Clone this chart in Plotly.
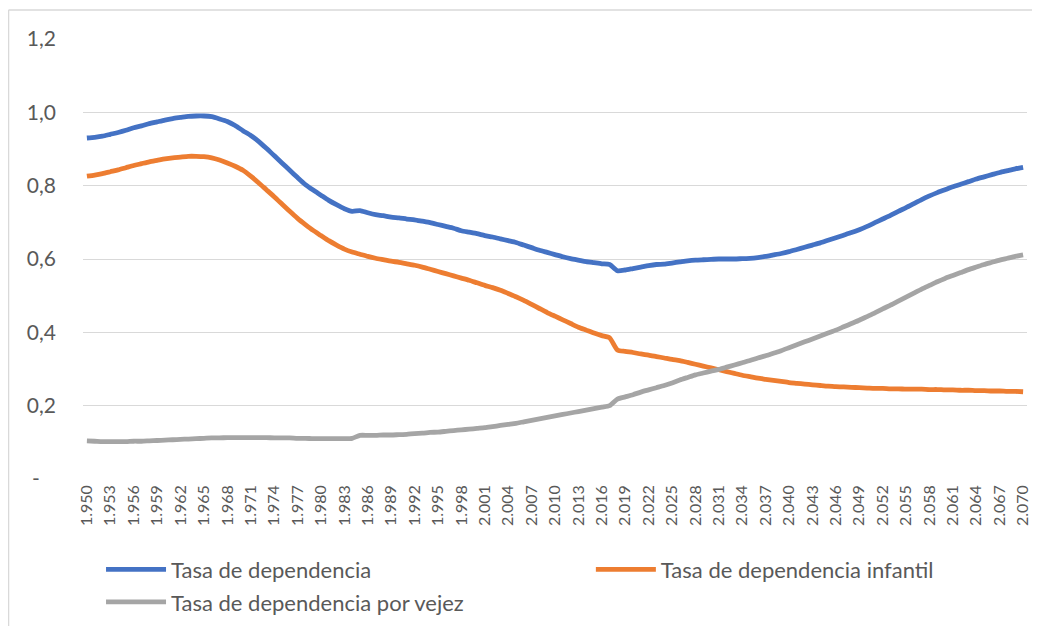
import plotly.graph_objects as go

years = list(range(1950, 2071))
categories = [f"{y // 1000}.{y % 1000:03d}" for y in years]
tick_labels = categories[::3]

tasa_total = [
    0.930, 0.932, 0.935, 0.940, 0.945, 0.951, 0.958, 0.963, 0.969, 0.974,  # 1950-1959
    0.979, 0.983, 0.986, 0.989, 0.990, 0.990, 0.988, 0.982, 0.975, 0.964,  # 1960-1969
    0.950, 0.937, 0.921, 0.902, 0.882, 0.862, 0.842, 0.822, 0.803, 0.788,  # 1970-1979
    0.774, 0.760, 0.748, 0.737, 0.730, 0.732, 0.726, 0.721, 0.718, 0.714,  # 1980-1989
    0.712, 0.709, 0.707, 0.703, 0.699, 0.694, 0.689, 0.684, 0.677, 0.673,  # 1990-1999
    0.669, 0.664, 0.660, 0.655, 0.650, 0.645, 0.638, 0.631, 0.624, 0.618,  # 2000-2009
    0.612, 0.606, 0.601, 0.597, 0.593, 0.590, 0.587, 0.585, 0.568, 0.570,  # 2010-2019
    0.574, 0.578, 0.582, 0.585, 0.586, 0.589, 0.592, 0.595, 0.597, 0.598,  # 2020-2029
    0.599, 0.600, 0.600, 0.600, 0.601, 0.602, 0.604, 0.607, 0.611, 0.615,  # 2030-2039
    0.620, 0.626, 0.632, 0.638, 0.644, 0.651, 0.658, 0.665, 0.672, 0.680,  # 2040-2049
    0.689, 0.699, 0.709, 0.719, 0.730, 0.740, 0.751, 0.762, 0.772, 0.781,  # 2050-2059
    0.789, 0.797, 0.804, 0.811, 0.818, 0.824, 0.830, 0.836, 0.841, 0.846,  # 2060-2069
    0.850,                                                                 # 2070
]

tasa_infantil = [
    0.826, 0.829, 0.833, 0.838, 0.843, 0.849, 0.855, 0.860, 0.865, 0.869,  # 1950-1959
    0.873, 0.876, 0.878, 0.880, 0.880, 0.879, 0.876, 0.870, 0.862, 0.853,  # 1960-1969
    0.842, 0.826, 0.808, 0.789, 0.770, 0.750, 0.730, 0.711, 0.694, 0.678,  # 1970-1979
    0.664, 0.650, 0.638, 0.627, 0.619, 0.613, 0.607, 0.602, 0.598, 0.594,  # 1980-1989
    0.591, 0.587, 0.583, 0.578, 0.572, 0.566, 0.560, 0.554, 0.548, 0.542,  # 1990-1999
    0.535, 0.528, 0.522, 0.515, 0.506, 0.497, 0.487, 0.476, 0.465, 0.454,  # 2000-2009
    0.444, 0.434, 0.424, 0.414, 0.406, 0.398, 0.391, 0.385, 0.352, 0.348,  # 2010-2019
    0.345, 0.341, 0.338, 0.334, 0.330, 0.326, 0.323, 0.318, 0.313, 0.308,  # 2020-2029
    0.303, 0.298, 0.293, 0.288, 0.283, 0.279, 0.275, 0.272, 0.269, 0.266,  # 2030-2039
    0.263, 0.261, 0.259, 0.257, 0.255, 0.253, 0.252, 0.251, 0.250, 0.249,  # 2040-2049
    0.248, 0.247, 0.247, 0.246, 0.246, 0.245, 0.245, 0.245, 0.244, 0.244,  # 2050-2059
    0.243, 0.243, 0.242, 0.242, 0.241, 0.241, 0.240, 0.240, 0.239, 0.239,  # 2060-2069
    0.238,                                                                 # 2070
]

tasa_vejez = [
    0.104, 0.103, 0.102, 0.102, 0.102, 0.102, 0.103, 0.103, 0.104, 0.105,  # 1950-1959
    0.106, 0.107, 0.108, 0.109, 0.110, 0.111, 0.112, 0.112, 0.113, 0.113,  # 1960-1969
    0.113, 0.113, 0.113, 0.113, 0.112, 0.112, 0.112, 0.111, 0.111, 0.110,  # 1970-1979
    0.110, 0.110, 0.110, 0.110, 0.111, 0.119, 0.119, 0.119, 0.120, 0.120,  # 1980-1989
    0.121, 0.122, 0.124, 0.125, 0.127, 0.128, 0.130, 0.132, 0.134, 0.136,  # 1990-1999
    0.138, 0.140, 0.143, 0.146, 0.149, 0.152, 0.156, 0.160, 0.164, 0.168,  # 2000-2009
    0.172, 0.176, 0.180, 0.184, 0.188, 0.192, 0.196, 0.200, 0.218, 0.224,  # 2010-2019
    0.230, 0.237, 0.243, 0.249, 0.255, 0.262, 0.270, 0.277, 0.284, 0.289,  # 2020-2029
    0.294, 0.299, 0.305, 0.311, 0.317, 0.323, 0.330, 0.336, 0.343, 0.350,  # 2030-2039
    0.358, 0.366, 0.374, 0.382, 0.390, 0.398, 0.406, 0.415, 0.424, 0.433,  # 2040-2049
    0.443, 0.453, 0.464, 0.474, 0.485, 0.496, 0.507, 0.518, 0.528, 0.538,  # 2050-2059
    0.547, 0.555, 0.563, 0.571, 0.578, 0.585, 0.591, 0.597, 0.602, 0.607,  # 2060-2069
    0.611,                                                                 # 2070
]

y_ticks = [0, 0.2, 0.4, 0.6, 0.8, 1.0, 1.2]
y_tick_labels = ["-\u00a0\u00a0\u00a0", "0,2", "0,4", "0,6", "0,8", "1,0", "1,2"]

series = [
    ("Tasa de dependencia", tasa_total, "#4472C4", "legend", "g1"),
    ("Tasa de dependencia infantil", tasa_infantil, "#ED7D31", "legend2", "g2"),
    ("Tasa de dependencia por vejez", tasa_vejez, "#A5A5A5", "legend", "g3"),
]

FONT = "Lato, 'Open Sans', sans-serif"
TEXT = "#595959"

fig = go.Figure()
for name, vals, color, leg, grp in series:
    fig.add_trace(go.Scatter(
        x=categories, y=vals, mode="lines", name=name, legend=leg, legendgroup=grp,
        line=dict(color=color, width=4.8, shape="spline", smoothing=0.6),
    ))

# chart frame (top and left edges visible in the reference)
fig.add_shape(type="line", xref="paper", yref="paper", x0=-0.0789, x1=1.02, y0=1.066, y1=1.066,
              line=dict(color="#D9D9D9", width=1.5), layer="below")
fig.add_shape(type="line", xref="paper", yref="paper", x0=-0.0789, x1=-0.0789, y0=1.066, y1=-0.34,
              line=dict(color="#D9D9D9", width=1.5), layer="below")

legend_common = dict(
    orientation="v", yanchor="top", xanchor="left",
    font=dict(size=22, color=TEXT, family=FONT),
    itemwidth=60, bgcolor="rgba(0,0,0,0)", tracegroupgap=1,
)

fig.update_layout(
    width=1032, height=618,
    margin=dict(l=75, r=13, t=31, b=147, autoexpand=False),
    paper_bgcolor="white", plot_bgcolor="white",
    font=dict(family=FONT, color=TEXT),
    showlegend=True,
    legend=dict(x=0.0191, y=-0.158, **legend_common),
    legend2=dict(x=0.538, y=-0.158, **legend_common),
    xaxis=dict(
        type="category", categoryorder="array", categoryarray=categories,
        tickmode="array", tickvals=tick_labels, ticktext=tick_labels,
        tickangle=-90, tickfont=dict(size=16, color=TEXT, family=FONT),
        showgrid=False, showline=False, zeroline=False, ticks="",
        range=[-0.5, len(categories) - 0.5], ticklabelstandoff=2,
    ),
    yaxis=dict(
        range=[0, 1.2], tickmode="array", tickvals=y_ticks, ticktext=y_tick_labels,
        tickfont=dict(size=21, color=TEXT, family=FONT),
        showgrid=True, gridcolor="#D9D9D9", gridwidth=1.3,
        zeroline=False, showline=False, ticks="", ticklabelstandoff=26,
    ),
)

fig.write_html("out.html")
